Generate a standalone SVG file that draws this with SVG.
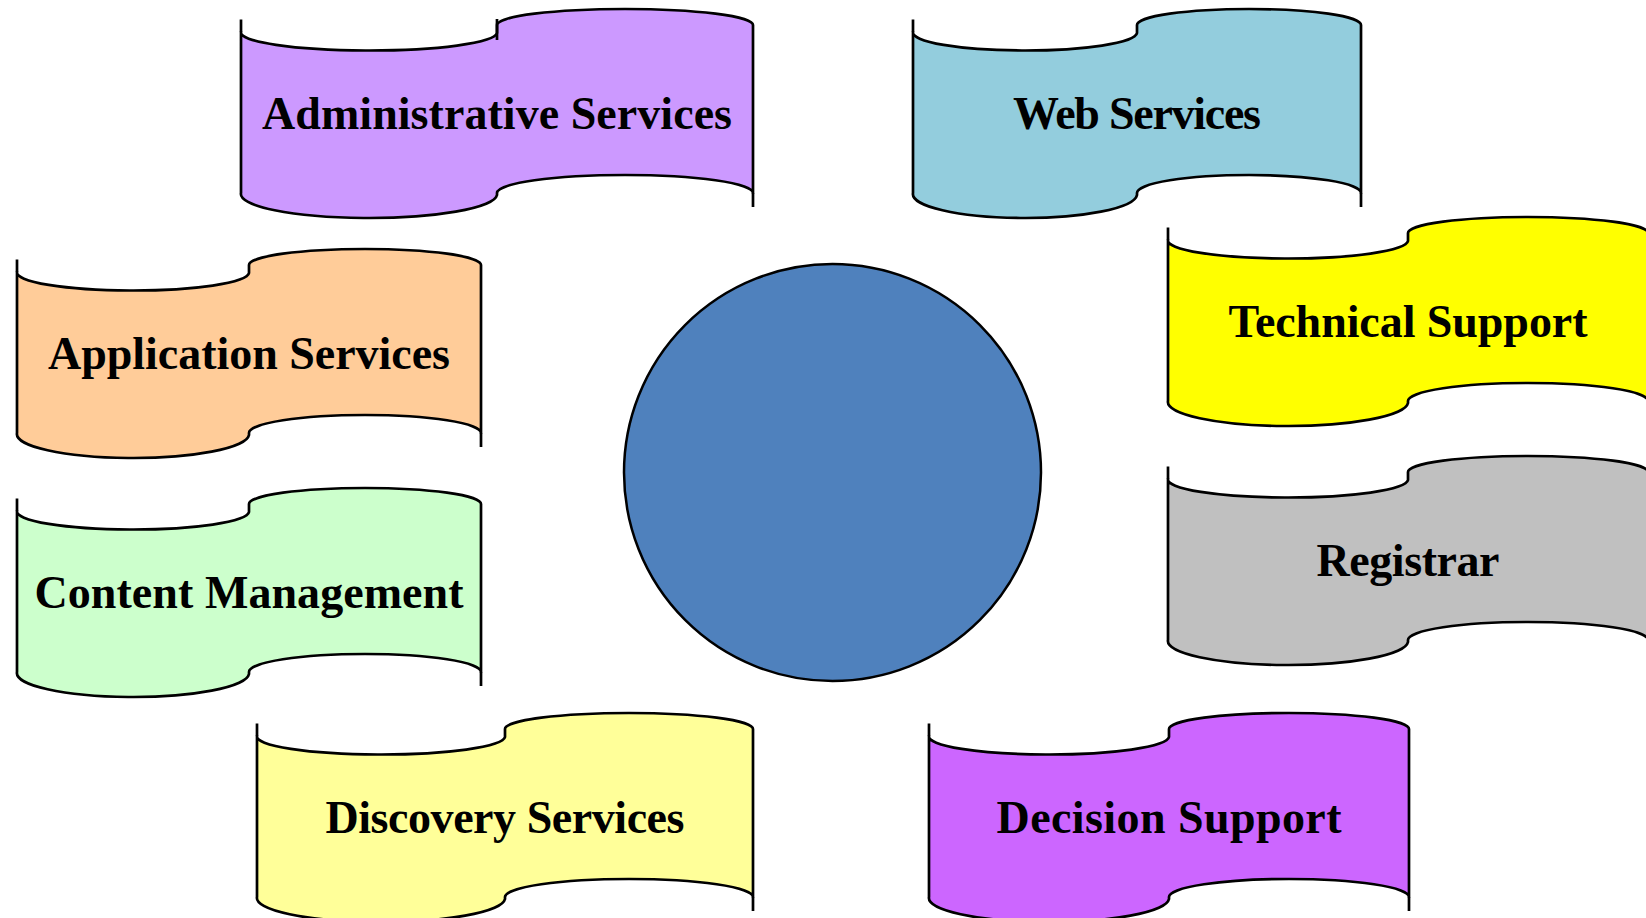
<svg xmlns="http://www.w3.org/2000/svg" width="1646" height="918" viewBox="0 0 1646 918">
<style>
.shape{stroke:#000;stroke-width:2.7;stroke-linejoin:round}
.stub{stroke:#000;stroke-width:2.7;fill:none}
.lbl{font-family:"Liberation Serif","Times New Roman",serif;font-weight:bold;font-size:46px;fill:#000;text-anchor:middle}
</style>
<rect width="1646" height="918" fill="#fff"/>
<g id="connectors"/>
<g id="hub">
<circle cx="832.5" cy="472.5" r="208.5" fill="#4F81BD" stroke="#000" stroke-width="2.5"/>
</g>
<g id="administrative-services" transform="translate(241,0)">
<path class="shape" fill="#CC99FF" d="M0,32 A128,18 0 0 0 256,33 L256,25 A128,16 0 0 1 512,25 L512,193 A128,18 0 0 0 256,193 L256,195 A128,24 0 0 1 0,193 Z"/>
<path class="stub" d="M0,19.5 V32 M256,19 V40 M512,193 V207"/>
<text class="lbl" x="256" y="129" textLength="470">Administrative Services</text>
</g>
<g id="web-services" transform="translate(913,0)">
<path class="shape" fill="#93CDDD" d="M0,32 A112,18 0 0 0 224,33 L224,25 A112,16 0 0 1 448,25 L448,193 A112,18 0 0 0 224,193 L224,195 A112,24 0 0 1 0,193 Z"/>
<path class="stub" d="M0,19.5 V32 M448,193 V207"/>
<text class="lbl" x="224" y="129" textLength="248">Web Services</text>
</g>
<g id="technical-support" transform="translate(1168,208)">
<path class="shape" fill="#FFFF00" d="M0,32 A120,18 0 0 0 240,33 L240,25 A120,16 0 0 1 480,25 L480,193 A120,18 0 0 0 240,193 L240,195 A120,24 0 0 1 0,193 Z"/>
<path class="stub" d="M0,19.5 V32"/>
<text class="lbl" x="240" y="129" textLength="359">Technical Support</text>
</g>
<g id="registrar" transform="translate(1168,447)">
<path class="shape" fill="#C0C0C0" d="M0,32 A120,18 0 0 0 240,33 L240,25 A120,16 0 0 1 480,25 L480,193 A120,18 0 0 0 240,193 L240,195 A120,24 0 0 1 0,193 Z"/>
<path class="stub" d="M0,19.5 V32"/>
<text class="lbl" x="240" y="129" textLength="183">Registrar</text>
</g>
<g id="application-services" transform="translate(17,240)">
<path class="shape" fill="#FFCC99" d="M0,32 A116,18 0 0 0 232,33 L232,25 A116,16 0 0 1 464,25 L464,193 A116,18 0 0 0 232,193 L232,195 A116,24 0 0 1 0,193 Z"/>
<path class="stub" d="M0,19.5 V32 M464,193 V207"/>
<text class="lbl" x="232" y="129" textLength="402">Application Services</text>
</g>
<g id="content-management" transform="translate(17,479)">
<path class="shape" fill="#CCFFCC" d="M0,32 A116,18 0 0 0 232,33 L232,25 A116,16 0 0 1 464,25 L464,193 A116,18 0 0 0 232,193 L232,195 A116,24 0 0 1 0,193 Z"/>
<path class="stub" d="M0,19.5 V32 M464,193 V207"/>
<text class="lbl" x="232" y="129" textLength="429">Content Management</text>
</g>
<g id="discovery-services" transform="translate(257,704)">
<path class="shape" fill="#FFFF99" d="M0,32 A124,18 0 0 0 248,33 L248,25 A124,16 0 0 1 496,25 L496,193 A124,18 0 0 0 248,193 L248,195 A124,24 0 0 1 0,193 Z"/>
<path class="stub" d="M0,19.5 V32 M496,193 V207"/>
<text class="lbl" x="248" y="129" textLength="359">Discovery Services</text>
</g>
<g id="decision-support" transform="translate(929,704)">
<path class="shape" fill="#CC66FF" d="M0,32 A120,18 0 0 0 240,33 L240,25 A120,16 0 0 1 480,25 L480,193 A120,18 0 0 0 240,193 L240,195 A120,24 0 0 1 0,193 Z"/>
<path class="stub" d="M0,19.5 V32 M480,193 V207"/>
<text class="lbl" x="240" y="129" textLength="345">Decision Support</text>
</g>
</svg>
